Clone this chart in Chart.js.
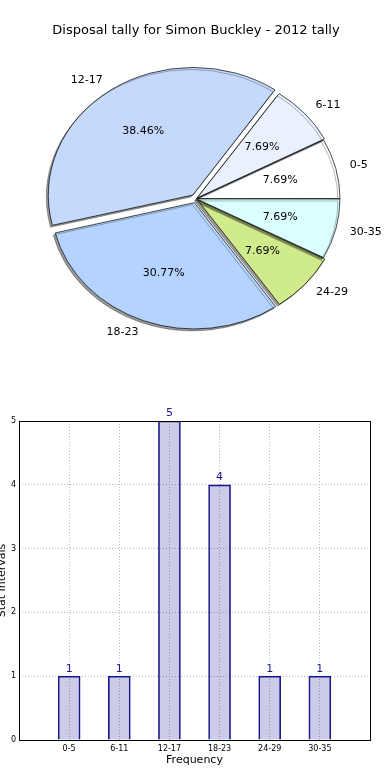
<!DOCTYPE html>
<html>
<head>
<meta charset="utf-8">
<script src="https://cdn.jsdelivr.net/npm/chart.js@4/dist/chart.umd.min.js"></script>
<style>
  html, body { margin: 0; padding: 0; background: #fff; }
  canvas { display: block; }
</style>
</head>
<body>
<canvas id="pie" width="390" height="400"></canvas>
<canvas id="bar" width="390" height="380"></canvas>
<script>
'use strict';

// data
const titleText = 'Disposal tally for Simon Buckley - 2012 tally';
const categories = ['0-5', '6-11', '12-17', '18-23', '24-29', '30-35'];
const counts = [1, 1, 5, 4, 1, 1];
const sliceColors = ['#ffffff', '#e9f0fe', '#c5d9fd', '#b4d4ff', '#d0eb8b', '#dbffff'];
const explodePx = [1, 2.5, 7, 5, 3, 1];
const yTicks = [0, 1, 2, 3, 4, 5];

Chart.defaults.font.family = "'DejaVu Sans', sans-serif";
Chart.defaults.color = '#000';

const total = counts.reduce((a, b) => a + b, 0);
const squash = 126 / 143;   // the pie is drawn as an ellipse

// chart.js moves a slice by offset/4 * (2 - sin(circ)); turn pixel explode into offset
const offsets = counts.map((v, i) =>
{
    const circ = v / total * Math.PI * 2;
    return 4 * explodePx[i] / (2 - Math.sin(Math.min(Math.PI, circ)));
});

const pieLook = {
    id: 'pieLook',
    beforeDatasetsDraw (chart)
    {
        const ctx = chart.ctx;
        const a = chart.getDatasetMeta(0).data[0];
        ctx.save();
        ctx.translate(a.x, a.y);
        ctx.scale(1, -squash);      // flip so slices run counter-clockwise
        ctx.translate(-a.x, -a.y);
        ctx.shadowColor = 'rgba(0,0,0,0.4)';
        ctx.shadowOffsetX = -2;
        ctx.shadowOffsetY = 2;
    },
    afterDatasetsDraw (chart)
    {
        const ctx = chart.ctx;
        ctx.restore();
        ctx.save();
        ctx.fillStyle = '#000';
        ctx.font = "11px 'DejaVu Sans'";
        ctx.textBaseline = 'middle';
        chart.getDatasetMeta(0).data.forEach((arc, i) =>
        {
            const p = arc.getProps(['x', 'y', 'startAngle', 'endAngle', 'outerRadius', 'circumference']);
            const mid = (p.startAngle + p.endAngle) / 2;
            const off = (arc.options.offset || 0) / 4;
            const shift = off * (2 - Math.sin(Math.min(Math.PI, p.circumference)));
            const at = (r) => [
                p.x + Math.cos(mid) * (r + shift),
                p.y - Math.sin(mid) * (r + shift) * squash
            ];
            const [lx, ly] = at(p.outerRadius * 1.1);
            ctx.textAlign = Math.cos(mid) > 0 ? 'left' : 'right';
            ctx.fillText(categories[i], lx, ly);
            const [px, py] = at(p.outerRadius * 0.6);
            ctx.textAlign = 'center';
            ctx.fillText((counts[i] / total * 100).toFixed(2) + '%', px, py);
        });
        ctx.restore();
    }
};

new Chart(document.getElementById('pie'), {
    type: 'pie',
    data: {
        labels: categories,
        datasets: [{
            data: counts,
            backgroundColor: sliceColors,
            borderColor: '#000',
            borderWidth: 0.75,
            offset: offsets
        }]
    },
    options: {
        responsive: false,
        animation: false,
        rotation: 90,
        radius: 143,
        layout: { padding: { left: 2, right: 0, top: 0, bottom: 51 } },
        plugins: {
            legend: { display: false },
            tooltip: { enabled: false },
            title: {
                display: true,
                text: titleText,
                color: '#000',
                font: { size: 13, weight: 'normal' },
                padding: { top: 23, bottom: 10 }
            }
        }
    },
    plugins: [pieLook]
});

const barLook = {
    id: 'barLook',
    afterDatasetsDraw (chart)
    {
        const ctx = chart.ctx;
        ctx.save();
        ctx.fillStyle = '#1a1a8c';
        ctx.font = "11px 'DejaVu Sans'";
        ctx.textAlign = 'center';
        ctx.textBaseline = 'bottom';
        chart.getDatasetMeta(0).data.forEach((bar, i) =>
        {
            ctx.fillText(String(counts[i]), bar.x, bar.y - 2);
        });
        ctx.restore();
    },
    afterDraw (chart)
    {
        const {ctx, chartArea: a} = chart;
        ctx.save();
        ctx.strokeStyle = '#000';
        ctx.lineWidth = 1;
        ctx.strokeRect(Math.round(a.left) + 0.5, Math.round(a.top) + 0.5,
            Math.round(a.right - a.left), Math.round(a.bottom - a.top));
        ctx.restore();
    }
};

new Chart(document.getElementById('bar'), {
    type: 'bar',
    data: {
        datasets: [{
            data: categories.map((c, i) => ({ x: i, y: counts[i] })),
            backgroundColor: 'rgba(0,0,139,0.2)',
            borderColor: '#1a1a8c',
            borderWidth: 1,
            barThickness: 22
        }]
    },
    options: {
        responsive: false,
        animation: false,
        layout: { padding: { left: 0, right: 20, top: 21, bottom: 0 } },
        plugins: {
            legend: { display: false },
            tooltip: { enabled: false }
        },
        scales: {
            x: {
                type: 'linear',
                min: -1,
                max: 6,
                offset: false,
                afterBuildTicks: (s) => { s.ticks = categories.map((c, i) => ({ value: i })); },
                afterFit: (s) => { s.height = 40; },
                ticks: {
                    callback: (v) => categories[v],
                    font: { size: 8 },
                    padding: 4,
                    maxRotation: 0
                },
                grid: { color: '#b8b8b8', drawTicks: false, offset: false },
                border: { display: false, dash: [1, 2] },
                title: {
                    display: true,
                    text: 'Frequency',
                    font: { size: 11 },
                    padding: { top: 0, bottom: 13.4 }
                }
            },
            y: {
                min: 0,
                max: 5,
                afterBuildTicks: (s) => { s.ticks = yTicks.map((v) => ({ value: v })); },
                afterFit: (s) => { s.width = 19; },
                ticks: { font: { size: 8 }, padding: 3 },
                grid: { color: '#b8b8b8', drawTicks: false },
                border: { display: false, dash: [1, 2] },
                title: {
                    display: true,
                    text: 'Stat Intervals',
                    font: { size: 11 },
                    padding: { top: -4, bottom: 0 }
                }
            }
        }
    },
    plugins: [barLook]
});
</script>
</body>
</html>
